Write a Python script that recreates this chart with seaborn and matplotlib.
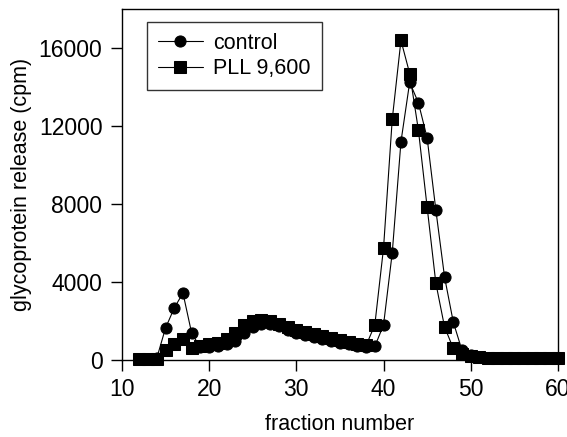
import numpy as np
import pandas as pd
import matplotlib
matplotlib.use("Agg")
import matplotlib.pyplot as plt
import seaborn as sns

fractions = list(range(12, 61))
control = [50, 50, 100, 1640, 2670, 3440, 1380, 650, 650, 700, 800, 1000, 1400, 1700,
           1850, 1850, 1750, 1550, 1400, 1300, 1200, 1100, 1000, 900, 800, 700, 650,
           700, 1800, 5500, 11200, 14250, 13200, 11400, 7700, 4260, 1950, 500, 250,
           150, 130, 120, 110, 100, 100, 100, 100, 90, 90]
pll = [50, 50, 50, 500, 800, 1100, 600, 700, 800, 900, 1100, 1400, 1800, 2000,
       2050, 2000, 1850, 1700, 1550, 1450, 1350, 1250, 1150, 1050, 950, 850, 750,
       1800, 5740, 12350, 16400, 14700, 11800, 7850, 3950, 1700, 600, 300, 200,
       150, 120, 110, 100, 100, 100, 90, 90, 90, 90]
series_names = ["control", "PLL 9,600"]
x_ticks = [10, 20, 30, 40, 50, 60]
y_ticks = [0, 4000, 8000, 12000, 16000]

df = pd.concat([
    pd.DataFrame({"fraction": fractions, "cpm": control, "series": series_names[0]}),
    pd.DataFrame({"fraction": fractions, "cpm": pll, "series": series_names[1]}),
])

sns.set_theme(style="white")
plt.rcParams["font.family"] = ["Liberation Sans", "DejaVu Sans"]
plt.rcParams["text.color"] = "black"
plt.rcParams["axes.labelcolor"] = "black"
plt.rcParams["xtick.color"] = "black"
plt.rcParams["ytick.color"] = "black"

fig = plt.figure(figsize=(5.67, 4.37), dpi=100)
ax = fig.add_axes([0.215, 0.176, 0.769, 0.803])

sns.lineplot(data=df, x="fraction", y="cpm", style="series",
             markers={"control": "o", "PLL 9,600": "s"},
             dashes=False, color="black", linewidth=0.8,
             markersize=8, markeredgecolor="black", ax=ax, clip_on=False)

ax.set_xlim(10, 60)
ax.set_ylim(0, 18000)
ax.set_xticks(x_ticks)
ax.set_yticks(y_ticks)
ax.tick_params(axis="both", direction="out", length=8, width=1, colors="black",
               labelsize=16.5, bottom=True, left=True)
ax.tick_params(axis="x", pad=5)
ax.tick_params(axis="y", pad=6)
for sp in ax.spines.values():
    sp.set_color("black")
    sp.set_linewidth(1)
ax.set_xlabel("fraction number", fontsize=15.5, labelpad=9, color="black")
ax.set_ylabel("glycoprotein release (cpm)", fontsize=15.5, labelpad=5, color="black")

leg = ax.legend(loc="upper left", bbox_to_anchor=(0.057, 0.963), frameon=True,
                fancybox=False, edgecolor="black", fontsize=15.5,
                handlelength=2.1, handletextpad=0.5, borderpad=0.5,
                borderaxespad=0, labelspacing=0.2)
leg.get_frame().set_linewidth(1)
for t in leg.get_texts():
    t.set_color("black")

fig.savefig("out.png", dpi=100)
